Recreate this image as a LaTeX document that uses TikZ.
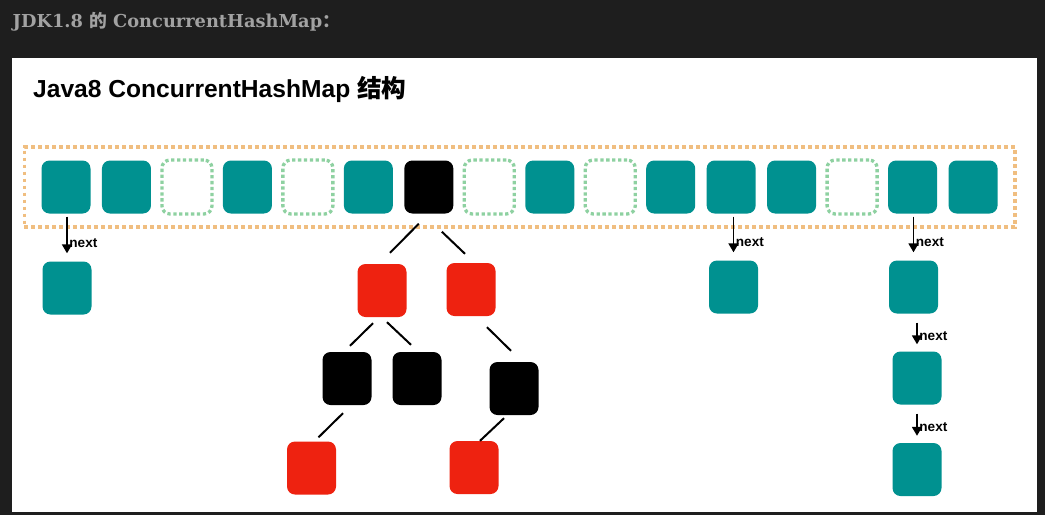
\documentclass[tikz,border=0pt]{standalone}
\usepackage{fontspec}
\setmainfont{Liberation Sans}
\newfontfamily\headfont{DejaVu Serif}
\newfontfamily\cjkfont{Noto Sans CJK SC}
\usetikzlibrary{arrows.meta,calc,fit}
\definecolor{pagebg}{HTML}{1E1E1E}
\definecolor{headgrey}{HTML}{A2A2A2}
\definecolor{binteal}{HTML}{009190}
\definecolor{nodered}{HTML}{EE2210}
\definecolor{emptygreen}{HTML}{8ED1A1}
\definecolor{tableorange}{HTML}{F0BE80}
\tikzset{
  cell/.style={rectangle,rounded corners=8pt,minimum width=49pt,minimum height=53pt,inner sep=0pt},
  full/.style={cell,fill=binteal},
  root/.style={cell,fill=black},
  red/.style={cell,fill=nodered},
  blk/.style={cell,fill=black},
  empty/.style={cell,draw=emptygreen,line width=3.3pt,dash pattern=on 3.3pt off 2.6pt,minimum width=50pt,minimum height=54pt},
  table/.style={draw=tableorange,line width=3.5pt,dash pattern=on 3.5pt off 3.5pt,inner xsep=17pt,inner ysep=13.5pt},
  treeline/.style={line width=2pt,black},
  nextarrow/.style={line width=1.8pt,-{Triangle[width=10pt,length=9pt]}},
  nextlabel/.style={right,inner sep=1.5pt,font=\bfseries\fontsize{13.6}{15}\selectfont}
}
\begin{document}
\begin{tikzpicture}[x=1pt,y=-1pt]
    \useasboundingbox (0,0) rectangle (1045,515);
    % ---- page and panel ----
    \fill[pagebg] (0,0) rectangle (1045,515);
    \fill[white] (12,57.7) rectangle (1036.7,511.7);
    \node[anchor=base west,inner sep=0pt,text=headgrey,font=\headfont\bfseries\fontsize{17.8}{20}\selectfont]
      (head) at (12.5,27) {JDK1.8 {\cjkfont\bfseries 的} ConcurrentHashMap{\cjkfont\bfseries ：}};
    \node[anchor=base west,inner sep=0pt,font=\bfseries\fontsize{24.6}{28}\selectfont]
      (title) at (33,97) {Java8 ConcurrentHashMap {\cjkfont\bfseries 结构}};
    % ---- bin array ----
    \foreach \i/\t in {0/full,1/full,2/empty,3/full,4/empty,5/full,6/root,7/empty,
                       8/full,9/empty,10/full,11/full,12/full,13/empty,14/full,15/full}
      \node[\t] (b\i) at ({66+60.47*\i},187) {};
    \node[table,fit=(b0)(b15)] (tab) {};
    % ---- linked lists ----
    \node[full] (c0) at (67,288) {};
    \node[full] (c1) at (733.5,287) {};
    \node[full] (c2) at (913.5,287) {};
    \node[full] (c3) at (917,378) {};
    \node[full] (c4) at (917,469.5) {};
    \draw[nextarrow,shorten <=3pt,shorten >=8pt] (b0.south -| c0.north) -- (c0.north)
      node[nextlabel,pos=0.62] {next};
    \draw[nextarrow,shorten <=3pt,shorten >=8pt] (b11.south -| c1.north) -- (c1.north)
      node[nextlabel,pos=0.62] {next};
    \draw[nextarrow,shorten <=3pt,shorten >=8pt] (b14.south -| c2.north) -- (c2.north)
      node[nextlabel,pos=0.62] {next};
    \draw[nextarrow,shorten <=9pt,shorten >=7pt] (c2.south -| c3.north) -- (c3.north)
      node[nextlabel,pos=0.6] {next};
    \draw[nextarrow,shorten <=9pt,shorten >=7pt] (c3.south) -- (c4.north)
      node[nextlabel,pos=0.6] {next};
    % ---- red-black tree ----
    \node[red] (t1) at (382,290.5) {};
    \node[red] (t2) at (471,289.5) {};
    \node[blk] (t3) at (347,378.5) {};
    \node[blk] (t4) at (417,378.5) {};
    \node[blk] (t5) at (514,388.5) {};
    \node[red] (t6) at (311.5,468) {};
    \node[red] (t7) at (474,467.5) {};
    \draw[treeline] ($(b6.south)+(-10,10)$) -- ($(t1.north)+(8,-11)$);
    \draw[treeline] ($(b6.south)+(13,18)$) -- ($(t2.north)+(-6,-9)$);
    \draw[treeline] ($(t1.south)+(-9,6)$) -- ($(t3.north)+(3,-6)$);
    \draw[treeline] ($(t1.south)+(5,5)$) -- ($(t4.north)+(-6,-7)$);
    \draw[treeline] ($(t2.south)+(16,11)$) -- ($(t5.north)+(-3,-11)$);
    \draw[treeline] ($(t3.south)+(-4,8)$) -- ($(t6.north)+(7,-4)$);
    \draw[treeline] ($(t5.south)+(-10,3)$) -- ($(t7.north)+(6,0)$);
\end{tikzpicture}
\end{document}
